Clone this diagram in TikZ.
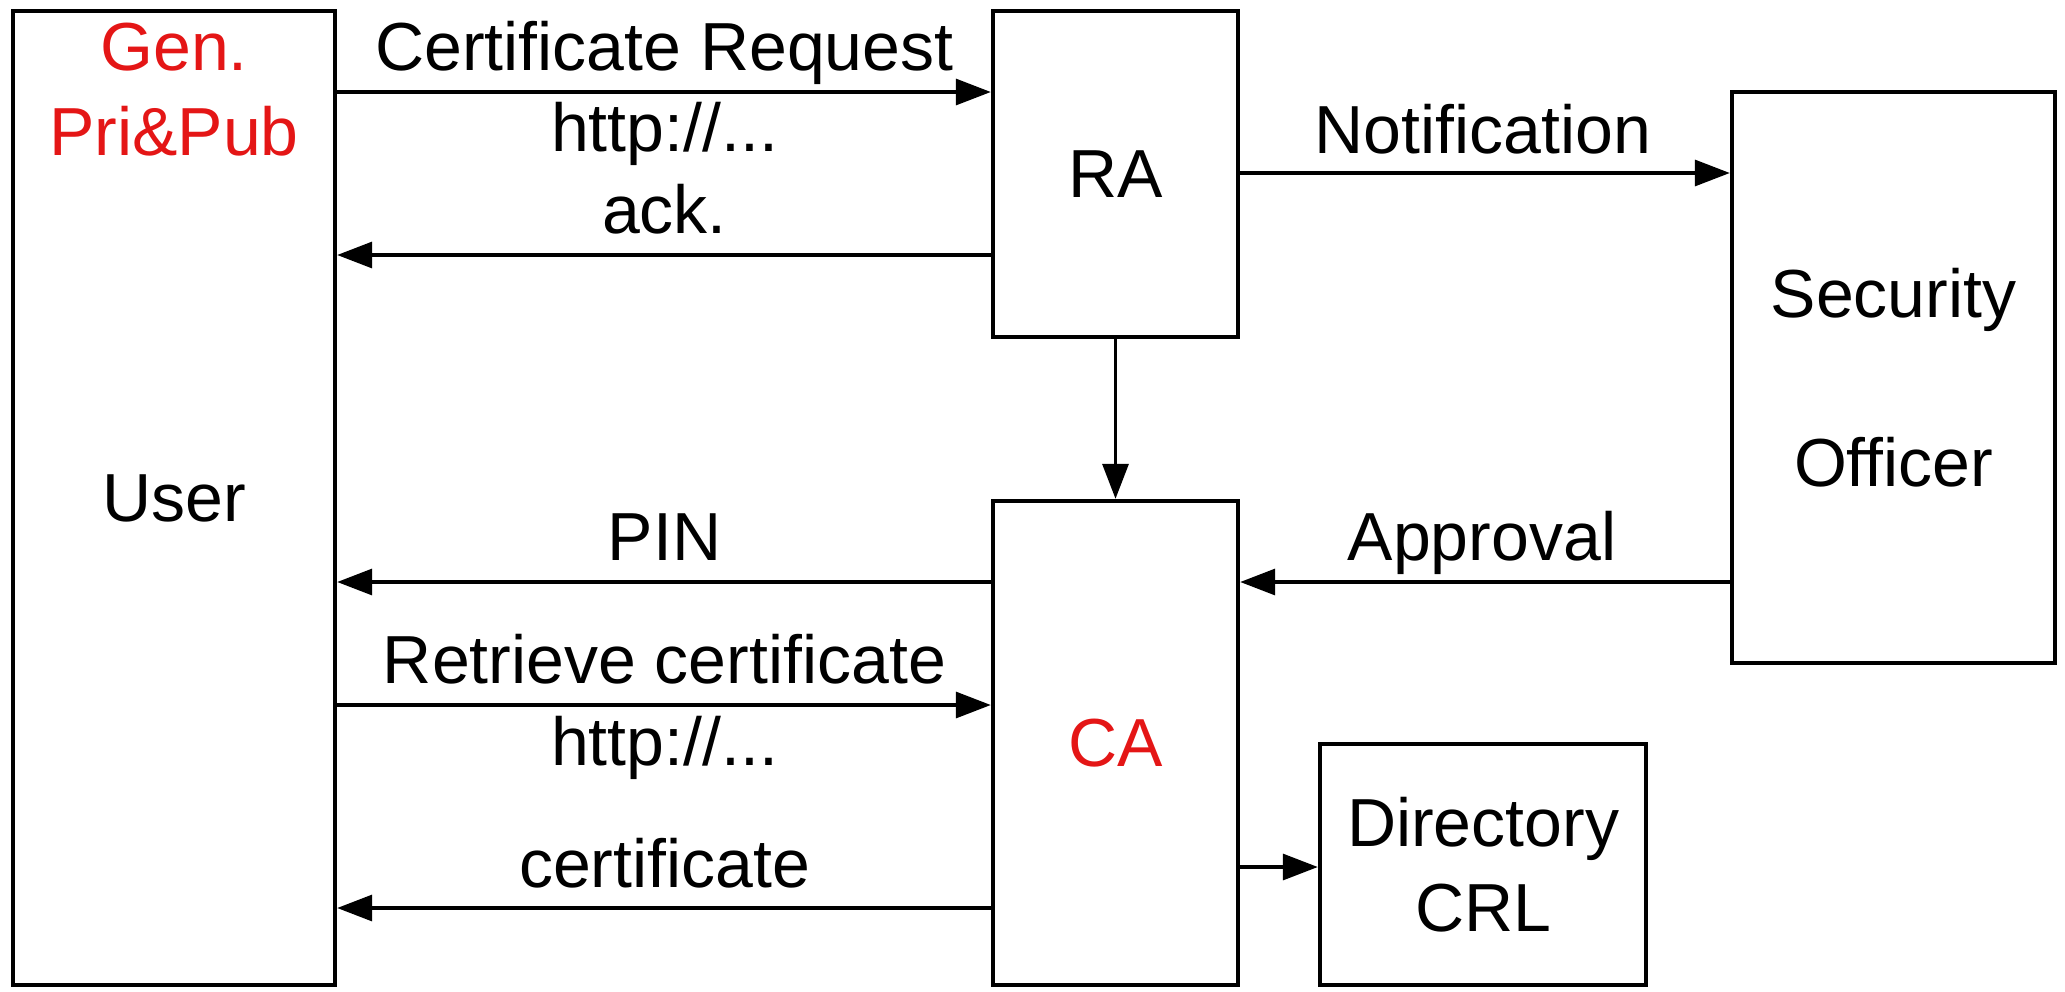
\documentclass[tikz,border=0pt]{standalone}
\usepackage{fontspec}
\setmainfont{Liberation Sans}
\usetikzlibrary{arrows.meta}
\definecolor{keyred}{RGB}{228,22,22}
\begin{document}
\begin{tikzpicture}[x=0.5pt,y=-0.5pt,
  every node/.style={font=\fontsize{34}{42.5}\selectfont},
  box/.style={draw, line width=2.2pt, rectangle, inner sep=0pt, align=center},
  lbl/.style={anchor=base, inner sep=0pt},
  msg/.style={line width=1.65pt, -{Triangle[length=17.5pt,width=13pt]}}]
\useasboundingbox (0,0) rectangle (2065,991);

% entities
\node[box, minimum width=161pt, minimum height=487pt] (user) at (174,498) {User};
\node[box, minimum width=122.5pt, minimum height=163pt] (ra) at (1115.5,174) {RA};
\node[box, minimum width=122.5pt, minimum height=242pt, text=keyred] (ca) at (1115.5,743) {CA};
\node[box, minimum width=161.5pt, minimum height=285.5pt] (so) at (1893.5,377.5) {Security\\[42pt]Officer};
\node[box, minimum width=163pt, minimum height=120.5pt] (dir) at (1483,864.5) {Directory\\CRL};

% key generation note on the user side
\node[lbl, text=keyred] (gen) at (174,70) {Gen.};
\node[lbl, text=keyred] (pripub) at (174,155) {Pri\&Pub};

% messages
\draw[msg] (user.east |- 0,92) -- (ra.west |- 0,92);
\draw[msg] (ra.west |- 0,255) -- (user.east |- 0,255);
\draw[msg] (ra.east |- 0,173) -- (so.west |- 0,173);
\draw[msg] (ra.south) -- (ca.north);
\draw[msg] (so.west |- 0,582) -- (ca.east |- 0,582);
\draw[msg] (ca.west |- 0,582) -- (user.east |- 0,582);
\draw[msg] (user.east |- 0,705) -- (ca.west |- 0,705);
\draw[msg] (ca.west |- 0,908) -- (user.east |- 0,908);
\draw[msg] (ca.east |- 0,867) -- (dir.west |- 0,867);

% message labels
\node[lbl] (lreq) at (664.5,70) {Certificate Request};
\node[lbl] (lurl1) at (664.5,151) {http://...};
\node[lbl] (lack) at (664.5,233) {ack.};
\node[lbl] (lnot) at (1483,153) {Notification};
\node[lbl] (lpin) at (664.5,560) {PIN};
\node[lbl] (lapp) at (1482,560) {Approval};
\node[lbl] (lret) at (664.5,683) {Retrieve certificate};
\node[lbl] (lurl2) at (664.5,765) {http://...};
\node[lbl] (lcert) at (664.5,887) {certificate};
\end{tikzpicture}
\end{document}
